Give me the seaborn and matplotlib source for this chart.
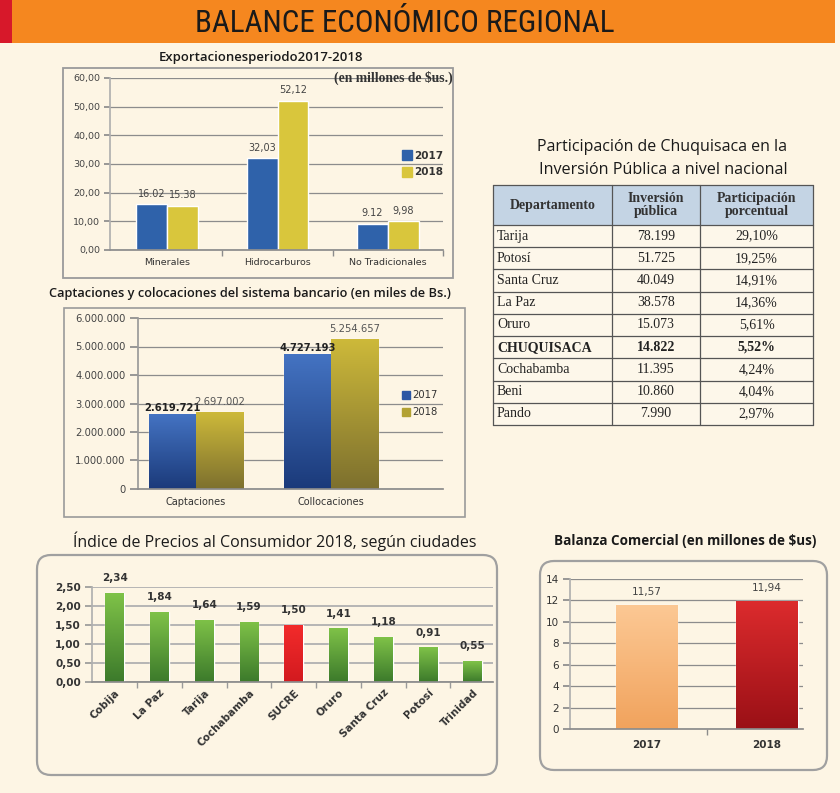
import numpy as np
import pandas as pd
import matplotlib
matplotlib.use("Agg")
import matplotlib.pyplot as plt
import seaborn as sns
from matplotlib.patches import Rectangle, FancyBboxPatch
from matplotlib.lines import Line2D
from matplotlib.colors import LinearSegmentedColormap
from matplotlib import font_manager as fm

# ---------------- data ----------------
exp_cats = ["Minerales", "Hidrocarburos", "No Tradicionales"]
exp_2017 = [16.02, 32.03, 9.12]
exp_2018 = [15.38, 52.12, 9.98]
exp_lbl_2017 = ["16.02", "32,03", "9.12"]
exp_lbl_2018 = ["15.38", "52,12", "9,98"]
exp_yticks = [0, 10, 20, 30, 40, 50, 60]

cap_cats = ["Captaciones", "Collocaciones"]
cap_2017 = [2619721, 4727193]
cap_2018 = [2697002, 5254657]
cap_yticks = [0, 1000000, 2000000, 3000000, 4000000, 5000000, 6000000]

years = ["2017", "2018"]

tab_dept = ["Tarija", "Potosí", "Santa Cruz", "La Paz", "Oruro", "CHUQUISACA",
            "Cochabamba", "Beni", "Pando"]
tab_inv = ["78.199", "51.725", "40.049", "38.578", "15.073", "14.822",
           "11.395", "10.860", "7.990"]
tab_pct = ["29,10%", "19,25%", "14,91%", "14,36%", "5,61%", "5,52%",
           "4,24%", "4,04%", "2,97%"]
tab_head = ["Departamento", "Inversión\npública", "Participación\nporcentual"]

ipc_cities = ["Cobija", "La Paz", "Tarija", "Cochabamba", "SUCRE", "Oruro",
              "Santa Cruz", "Potosí", "Trinidad"]
ipc_vals = [2.34, 1.84, 1.64, 1.59, 1.50, 1.41, 1.18, 0.91, 0.55]
ipc_yticks = [0.0, 0.5, 1.0, 1.5, 2.0, 2.5]

bal_years = ["2017", "2018"]
bal_vals = [11.57, 11.94]
bal_yticks = [0, 2, 4, 6, 8, 10, 12, 14]

# ---------------- style ----------------
BG = "#fdf5e4"
sns.set_theme(style="white", rc={"figure.facecolor": BG, "axes.facecolor": "none",
                                 "savefig.facecolor": BG})


def font_file(name, stretch="normal"):
    try:
        return fm.findfont(fm.FontProperties(family=name, stretch=stretch),
                           fallback_to_default=False)
    except Exception:
        return None


NARROW = None
for cand in ["Liberation Sans Narrow", "Roboto Condensed", "Open Sans Condensed",
             "Noto Sans Condensed", "DejaVu Sans Condensed"]:
    if font_file(cand):
        NARROW = cand
        break
NARROW_STRETCH = "normal"
if NARROW is None:
    f = font_file("DejaVu Sans", "condensed")
    NARROW = "DejaVu Sans"
    if f and "ondensed" in f:
        NARROW_STRETCH = "condensed"

TITLE = "Open Sans"
SERIF = "Liberation Serif"
plt.rcParams["font.family"] = ["DejaVu Sans"]

W, H = 840, 793
fig = plt.figure(figsize=(W / 100, H / 100), dpi=100)
renderer = fig.canvas.get_renderer()


def axpx(l, t, r, b):
    return fig.add_axes([l / W, 1 - b / H, (r - l) / W, (b - t) / H])


def inch_rect(l, t, r, b, rounded=0.0, **kw):
    if rounded > 0:
        p = FancyBboxPatch((l / 100, (H - b) / 100), (r - l) / 100, (b - t) / 100,
                           boxstyle=f"round,pad=0,rounding_size={rounded}",
                           transform=fig.dpi_scale_trans, **kw)
    else:
        p = Rectangle((l / 100, (H - b) / 100), (r - l) / 100, (b - t) / 100,
                      transform=fig.dpi_scale_trans, **kw)
    fig.add_artist(p)
    return p


def ftext(x, y, s, width=None, maxsize=None, **kw):
    t = fig.text(x / W, 1 - y / H, s, **kw)
    if width is not None:
        bb = t.get_window_extent(renderer)
        fs = t.get_fontsize() * width / bb.width
        if maxsize is not None:
            fs = min(fs, maxsize)
        t.set_fontsize(fs)
    return t


def fit_artist(t, width):
    bb = t.get_window_extent(renderer)
    t.set_fontsize(t.get_fontsize() * width / bb.width)


def gradient(ax, cont, tops, bottoms):
    for p, ct, cb in zip(cont.patches, tops, bottoms):
        x0, y0, w, h = p.get_x(), p.get_y(), p.get_width(), p.get_height()
        cmap = LinearSegmentedColormap.from_list("g", [cb, ct])
        grad = np.linspace(0, 1, 128).reshape(-1, 1)
        im = ax.imshow(grad, extent=[x0, x0 + w, y0, y0 + h], origin="lower",
                       cmap=cmap, aspect="auto", zorder=p.get_zorder() + 0.1,
                       interpolation="bilinear")
        im.set_clip_path(p)


def style_axes(ax, gridc="#8c8c8c", gridlw=0.9):
    ax.set_axisbelow(True)
    ax.yaxis.grid(True, color=gridc, lw=gridlw)
    ax.xaxis.grid(False)
    for s in ["top", "right"]:
        ax.spines[s].set_visible(False)
    ax.spines["left"].set_color("#b0b0b0")
    ax.spines["bottom"].set_color("#8c8c8c")
    ax.set_xlabel("")
    ax.set_ylabel("")


# ---------------- header ----------------
inch_rect(0, 0, 835, 43, facecolor="#f5871f", edgecolor="none")
inch_rect(0, 0, 12, 43, facecolor="#d7182a", edgecolor="none")
ftext(405, 23, "BALANCE ECONÓMICO REGIONAL", width=420, maxsize=23,
      family=[NARROW, "DejaVu Sans"], fontstretch=NARROW_STRETCH,
      fontsize=22, ha="center", va="center", color="#1a1a1a")

# ---------------- chart 1: exportaciones ----------------
BLUE1, YEL1 = "#2f62aa", "#d9c63c"
ftext(261, 58, "Exportacionesperiodo2017-2018", width=204, family=[TITLE, "DejaVu Sans"],
      fontsize=9, fontweight="semibold", ha="center", va="center", color="#1a1a1a")
inch_rect(63, 68, 453, 278, facecolor="none", edgecolor="#9a9a9a", lw=1.3)
ax1 = axpx(110, 78, 443, 250)
df1 = pd.DataFrame({"cat": exp_cats * 2, "year": [years[0]] * 3 + [years[1]] * 3,
                    "val": exp_2017 + exp_2018})
sns.barplot(data=df1, x="cat", y="val", hue="year", palette=[BLUE1, YEL1], width=0.56,
            gap=0, saturation=1, legend=False, errorbar=None, ax=ax1)
style_axes(ax1)
ax1.set_ylim(0, 60)
ax1.set_xlim(-0.52, 2.5)
ax1.set_yticks(exp_yticks)
ax1.set_yticklabels([f"{v:.2f}".replace(".", ",") for v in exp_yticks], fontsize=6.8,
                    color="#444444")
ax1.tick_params(axis="y", length=4, color="#8c8c8c", pad=3, left=True)
ax1.tick_params(axis="x", length=0, pad=6, labelsize=6.8, labelcolor="#333333")
ax1.set_xticks(np.arange(len(exp_cats)) + 0.5, minor=True)
ax1.tick_params(axis="x", which="minor", length=4, color="#8c8c8c", bottom=True)
for cont, lbls in zip(ax1.containers, [exp_lbl_2017, exp_lbl_2018]):
    ax1.bar_label(cont, labels=lbls, padding=4, fontsize=7, color="#444444")
h1 = [Line2D([], [], marker="s", ls="", color=c, markersize=6.5) for c in [BLUE1, YEL1]]
ax1.legend(h1, years, loc="upper left", bbox_to_anchor=(0.865, 0.6), frameon=False,
           prop={"size": 7.5, "weight": "bold"}, handletextpad=0.1, labelspacing=0.6,
           borderaxespad=0, handlelength=1.0, labelcolor="#333333")
t = ax1.text(1.03, 1.0, "(en millones de $us.)", transform=ax1.transAxes, ha="right",
             va="center", fontsize=7, fontweight="bold", color="#333333",
             family=[SERIF], parse_math=False)
fit_artist(t, 118)

# ---------------- chart 2: captaciones ----------------
BLUE2T, BLUE2B = "#4473c2", "#1b3a7a"
YEL2T, YEL2B = "#cdb93a", "#7d702e"
ftext(250, 293, "Captaciones y colocaciones del sistema bancario (en miles de Bs.)",
      width=402, family=[TITLE, "DejaVu Sans"], fontsize=9, fontweight="semibold",
      ha="center", va="center", color="#1a1a1a")
inch_rect(64, 308, 465, 517, facecolor="none", edgecolor="#9a9a9a", lw=1.2)
ax2 = axpx(138, 318, 443, 489)
df2 = pd.DataFrame({"cat": cap_cats * 2, "year": [years[0]] * 2 + [years[1]] * 2,
                    "val": cap_2017 + cap_2018})
sns.barplot(data=df2, x="cat", y="val", hue="year", palette=[BLUE2B, YEL2B], width=0.70,
            gap=0, saturation=1, legend=False, errorbar=None, ax=ax2)
gradient(ax2, ax2.containers[0], [BLUE2T] * 2, [BLUE2B] * 2)
gradient(ax2, ax2.containers[1], [YEL2T] * 2, [YEL2B] * 2)
style_axes(ax2)
ax2.spines["left"].set_color("#9a9a9a")
ax2.set_ylim(0, 6000000)
ax2.set_xlim(-0.43, 1.83)
ax2.set_yticks(cap_yticks)
ax2.set_yticklabels([f"{v:,}".replace(",", ".") for v in cap_yticks], fontsize=7.2,
                    color="#444444")
ax2.tick_params(axis="y", length=6, color="#8c8c8c", pad=3, left=True)
ax2.tick_params(axis="x", length=0, pad=6, labelsize=7, labelcolor="#333333")
ax2.bar_label(ax2.containers[0], labels=[f"{v:,}".replace(",", ".") for v in cap_2017],
              padding=1, fontsize=7.2, fontweight="bold", color="#222222")
ax2.bar_label(ax2.containers[1], labels=[f"{v:,}".replace(",", ".") for v in cap_2018],
              padding=4, fontsize=7.2, color="#555555")
h2 = [Line2D([], [], marker="s", ls="", color=c, markersize=6) for c in ["#2c57a4", "#b3a233"]]
ax2.legend(h2, years, loc="upper left", bbox_to_anchor=(0.85, 0.6), frameon=False,
           fontsize=7.2, handletextpad=0.1, labelspacing=0.7, borderaxespad=0,
           handlelength=1.0, labelcolor="#333333")

# ---------------- table ----------------
ftext(662, 147, "Participación de Chuquisaca en la", width=250,
      family=[TITLE, "DejaVu Sans"], fontsize=11, ha="center", va="center", color="#1a1a1a")
ftext(663, 170, "Inversión Pública a nivel nacional", width=248,
      family=[TITLE, "DejaVu Sans"], fontsize=11, ha="center", va="center", color="#1a1a1a")
tax = axpx(493, 185, 813, 425)
tax.set_axis_off()
col_edges = [0, 119, 207, 320]
head_h = 1.8
n = len(tab_dept)
tax.set_xlim(0, 320)
tax.set_ylim(head_h + n, 0)
tax.add_patch(Rectangle((0, 0), 320, head_h, facecolor="#c4d4e4", edgecolor="none"))
tax.add_patch(Rectangle((0, head_h), 320, n, facecolor="#fdf7ea", edgecolor="none"))
for xe in col_edges:
    tax.plot([xe, xe], [0, head_h + n], color="#555555", lw=0.9, clip_on=False)
for yi in [0, head_h] + [head_h + i + 1 for i in range(n)]:
    tax.plot([0, 320], [yi, yi], color="#555555", lw=0.9, clip_on=False)
for j, hd in enumerate(tab_head):
    tax.text((col_edges[j] + col_edges[j + 1]) / 2, head_h / 2, hd, ha="center",
             va="center", fontsize=10, fontweight="bold", family=[SERIF],
             color="#333333", linespacing=1.0)
for i in range(n):
    yc = head_h + i + 0.5
    wt = "bold" if tab_dept[i] == "CHUQUISACA" else "normal"
    tax.text(4, yc, tab_dept[i], ha="left", va="center", fontsize=10, fontweight=wt,
             family=[SERIF], color="#222222")
    tax.text((col_edges[1] + col_edges[2]) / 2, yc, tab_inv[i], ha="center", va="center",
             fontsize=10, fontweight=wt, family=[SERIF], color="#222222")
    tax.text((col_edges[2] + col_edges[3]) / 2, yc, tab_pct[i], ha="center", va="center",
             fontsize=10, fontweight=wt, family=[SERIF], color="#222222")

# ---------------- chart 4: IPC ----------------
GRN_T, GRN_B = "#7fc248", "#3c7a2b"
RED_T, RED_B = "#f22b2b", "#d31a1f"
ftext(275, 541, "Índice de Precios al Consumidor 2018, según ciudades", width=406,
      family=[TITLE, "DejaVu Sans"], fontsize=11, ha="center", va="center", color="#1a1a1a")
inch_rect(37, 555, 497, 775, rounded=0.14, facecolor="none", edgecolor="#a0a0a0", lw=1.6)
ax4 = axpx(92, 587, 493, 682)
ipc_colors = [RED_B if c == "SUCRE" else GRN_B for c in ipc_cities]
sns.barplot(x=ipc_cities, y=ipc_vals, hue=ipc_cities, palette=ipc_colors, width=0.42,
            saturation=1, legend=False, errorbar=None, ax=ax4)
for cont, c in zip(ax4.containers, ipc_cities):
    if c == "SUCRE":
        gradient(ax4, cont, [RED_T], [RED_B])
    else:
        gradient(ax4, cont, [GRN_T], [GRN_B])
style_axes(ax4, gridc="#b0b0b0", gridlw=1.3)
ax4.set_ylim(0, 2.5)
ax4.set_xlim(-0.51, 8.45)
ax4.set_yticks(ipc_yticks)
ax4.set_yticklabels([f"{v:.2f}".replace(".", ",") for v in ipc_yticks], fontsize=7.5,
                    fontweight="bold", color="#333333")
ax4.tick_params(axis="y", length=5, color="#9a9a9a", pad=3, left=True)
ax4.set_xticks(range(len(ipc_cities)))
ax4.set_xticklabels(ipc_cities, rotation=45, ha="right", rotation_mode="anchor",
                    fontsize=7.5, fontweight="bold", color="#333333")
ax4.tick_params(axis="x", length=0, pad=4)
ax4.set_xticks(np.arange(len(ipc_cities) - 1) + 0.5, minor=True)
ax4.tick_params(axis="x", which="minor", length=4, color="#9a9a9a", bottom=True)
for cont, v in zip(ax4.containers, ipc_vals):
    ax4.bar_label(cont, labels=[f"{v:.2f}".replace(".", ",")], padding=7, fontsize=7.5,
                  fontweight="bold", color="#333333")

# ---------------- chart 5: balanza ----------------
ftext(685, 541, "Balanza Comercial (en millones de $us)", width=264,
      family=[TITLE, "DejaVu Sans"], fontsize=9.5, fontweight="bold", ha="center",
      va="center", color="#1a1a1a", parse_math=False)
inch_rect(540, 561, 827, 770, rounded=0.14, facecolor="none", edgecolor="#a0a0a0", lw=1.6)
ax5 = axpx(570, 579, 803, 729)
sns.barplot(x=bal_years, y=bal_vals, hue=bal_years, palette=["#f3a863", "#a5131a"],
            width=0.51, saturation=1, legend=False, errorbar=None, ax=ax5)
gradient(ax5, ax5.containers[0], ["#fcc894"], ["#f1a35d"])
gradient(ax5, ax5.containers[1], ["#dc2b2d"], ["#9a1016"])
style_axes(ax5)
ax5.set_ylim(0, 14)
ax5.set_xlim(-0.64, 1.3)
ax5.set_yticks(bal_yticks)
ax5.set_yticklabels([str(v) for v in bal_yticks], fontsize=7.5, color="#333333")
ax5.tick_params(axis="y", length=5, color="#8c8c8c", pad=3, left=True)
ax5.tick_params(axis="x", length=0, pad=8, labelsize=7.5, labelcolor="#333333")
for lb in ax5.get_xticklabels():
    lb.set_fontweight("bold")
ax5.set_xticks([0.5], minor=True)
ax5.tick_params(axis="x", which="minor", length=4, color="#8c8c8c", bottom=True)
for cont, v in zip(ax5.containers, bal_vals):
    ax5.bar_label(cont, labels=[f"{v:.2f}".replace(".", ",")], padding=6, fontsize=7.5,
                  color="#444444")

fig.savefig("out.png", dpi=100, facecolor=BG)
